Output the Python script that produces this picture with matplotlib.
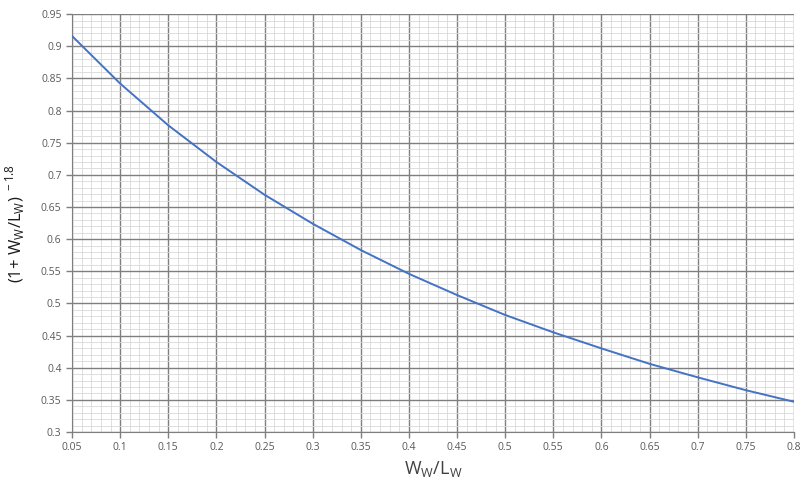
import matplotlib
matplotlib.use("Agg")
import matplotlib.pyplot as plt
from matplotlib.ticker import MultipleLocator

# values
ratio = [0.05, 0.10, 0.15, 0.20, 0.25, 0.30, 0.35, 0.40,
         0.45, 0.50, 0.55, 0.60, 0.65, 0.70, 0.75, 0.80]
factor = [0.916, 0.842, 0.777, 0.720, 0.669, 0.624, 0.583, 0.546,
          0.513, 0.482, 0.455, 0.430, 0.406, 0.385, 0.365, 0.347]
x_ticks = [0.05, 0.1, 0.15, 0.2, 0.25, 0.3, 0.35, 0.4,
           0.45, 0.5, 0.55, 0.6, 0.65, 0.7, 0.75, 0.8]
y_ticks = [0.3, 0.35, 0.4, 0.45, 0.5, 0.55, 0.6, 0.65, 0.7, 0.75, 0.8, 0.85, 0.9, 0.95]

plt.rcParams['font.family'] = ['Open Sans', 'DejaVu Sans']
plt.rcParams['mathtext.fontset'] = 'custom'
plt.rcParams['mathtext.rm'] = 'Open Sans'

fig = plt.figure(figsize=(8.03, 4.87), dpi=100)
ax = fig.add_axes([0.0897, 0.113, 0.899, 0.858])

ax.plot(ratio, factor, color="#4472C4", lw=1.4, zorder=3)

ax.set_xlim(0.05, 0.8)
ax.set_ylim(0.3, 0.95)
ax.set_xticks(x_ticks)
ax.set_xticklabels([f"{t:g}" for t in x_ticks])
ax.set_yticks(y_ticks)
ax.set_yticklabels([f"{t:g}" for t in y_ticks])
ax.xaxis.set_minor_locator(MultipleLocator(0.01))
ax.yaxis.set_minor_locator(MultipleLocator(0.01))

ax.grid(which="major", color="#7f7f7f", lw=1.0, zorder=1)
ax.grid(which="minor", color="#d9d9d9", lw=0.6, zorder=0)
ax.tick_params(which="major", direction="out", length=4, color="#7f7f7f",
               labelsize=7.5, labelcolor="#595959", width=1)
ax.tick_params(which="minor", length=0)
for side in ["top", "right"]:
    ax.spines[side].set_visible(False)
for side in ["left", "bottom"]:
    ax.spines[side].set_color("#7f7f7f")

ax.set_xlabel(r"W$_\mathregular{W}$/L$_\mathregular{W}$", fontsize=13, color="#404040", labelpad=4)
ax.set_ylabel(r"(1+ W$_\mathregular{W}$/L$_\mathregular{W}$)$^{\mathregular{\ -1.8}}$",
              fontsize=12, color="#1a1a1a", labelpad=10)

fig.savefig("out.png", dpi=100)
